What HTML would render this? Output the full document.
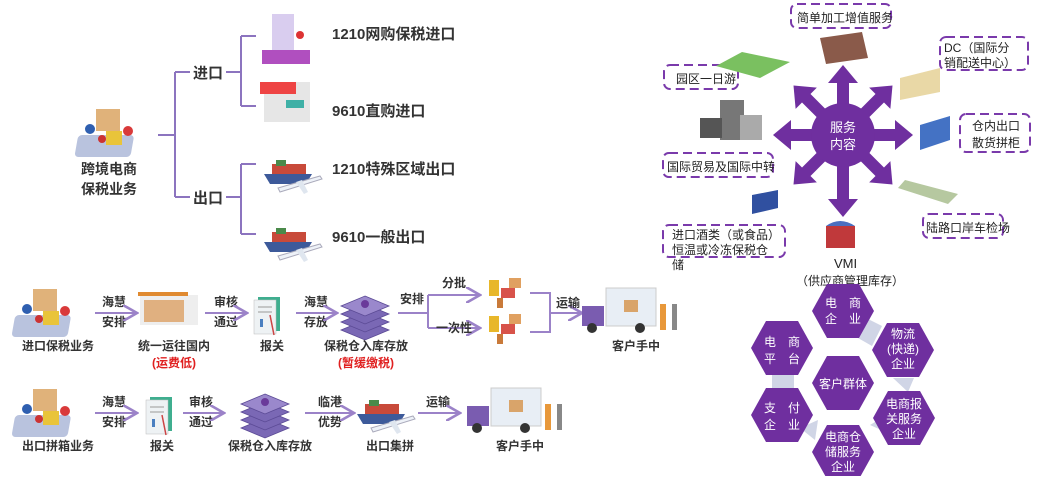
<!DOCTYPE html>
<html><head><meta charset="utf-8"><style>
body{margin:0;background:#fff;}
svg text{font-family:"Liberation Sans","Noto Sans CJK SC",sans-serif;}
</style></head><body>
<svg width="1042" height="476" viewBox="0 0 1042 476" xmlns="http://www.w3.org/2000/svg">
<defs>
<marker id="ar" markerWidth="8" markerHeight="8" refX="6" refY="4" orient="auto"><path d="M0,0 L7,4 L0,8" fill="none" stroke="#9b82c8" stroke-width="1.3"/></marker>
<g id="phone"><rect x="-28" y="10" width="56" height="22" rx="4" fill="#b9c3de" transform="skewX(-10)"/><rect x="-12" y="-16" width="24" height="22" fill="#e0b27a"/><circle cx="-18" cy="4" r="5" fill="#2f5fb0"/><rect x="-2" y="6" width="16" height="14" fill="#e9c43a"/><circle cx="20" cy="6" r="5" fill="#d93a3a"/><circle cx="-6" cy="14" r="4" fill="#c33"/></g>
<g id="doc"><rect x="-10" y="-18" width="22" height="34" fill="#3fae8f"/><rect x="-14" y="-15" width="22" height="34" fill="#eef2f4" stroke="#bbb" stroke-width=".5"/><line x1="-10" y1="-8" x2="4" y2="-8" stroke="#999"/><line x1="-10" y1="-3" x2="4" y2="-3" stroke="#999"/><rect x="-8" y="4" width="3" height="8" fill="#4a7fc0"/><line x1="2" y1="0" x2="6" y2="20" stroke="#c44" stroke-width="1.5"/></g>
<g id="stack"><g fill="#7a68b5" stroke="#5b4a95" stroke-width=".8"><path d="M0,8 L24,18 L0,28 L-24,18Z"/><path d="M0,0 L24,10 L0,20 L-24,10Z"/><path d="M0,-8 L24,2 L0,12 L-24,2Z"/><path d="M0,-16 L24,-6 L0,4 L-24,-6Z" fill="#9a88cc"/></g><circle cx="0" cy="-8" r="4" fill="#6a3a9a"/></g>
<g id="truck"><rect x="-14" y="-24" width="50" height="38" fill="#e8eef5" stroke="#ccc"/><rect x="4" y="-12" width="14" height="12" fill="#d9a46a"/><rect x="-38" y="-6" width="22" height="20" fill="#7a5cb0"/><circle cx="-28" cy="16" r="5" fill="#333"/><circle cx="20" cy="16" r="5" fill="#333"/><rect x="40" y="-8" width="6" height="26" fill="#e8983a"/><rect x="52" y="-8" width="5" height="26" fill="#888"/></g>
<g id="fork"><rect x="-16" y="-12" width="10" height="16" fill="#e8b72a"/><rect x="-4" y="-4" width="14" height="10" fill="#d8534a"/><rect x="4" y="-14" width="12" height="10" fill="#e0a060"/><rect x="-8" y="6" width="6" height="10" fill="#c97a3a"/></g>
<g id="ship"><path d="M-26,4 L22,4 L16,14 L-20,14Z" fill="#3d5a9a"/><rect x="-18" y="-6" width="34" height="10" fill="#c84a3a"/><rect x="-14" y="-10" width="10" height="6" fill="#4a8a4a"/><path d="M-12,18 L30,6 L32,9 L-10,22Z" fill="#eef2f8" stroke="#aab"/><path d="M6,12 L14,24 L18,22 L12,10Z" fill="#dfe6ef"/></g>
<path id="hx" d="M-31,0 L-16,-27 L16,-27 L31,0 L16,27 L-16,27Z"/>
</defs>

<use href="#phone" x="108" y="125"/>
<text x="109" y="174" font-size="14" font-weight="bold" text-anchor="middle" fill="#333">跨境电商</text>
<text x="109" y="194" font-size="14" font-weight="bold" text-anchor="middle" fill="#333">保税业务</text>
<g stroke="#8c74bf" stroke-width="2" fill="none">
<path d="M158,135 H175 M175,72 V197 M175,72 H190 M175,197 H190"/>
<path d="M226,72 H241 M241,36 V106 M241,36 H256 M241,106 H256"/>
<path d="M226,197 H241 M241,164 V234 M241,164 H256 M241,234 H256"/>
</g>
<text x="193" y="78" font-size="15" font-weight="bold" fill="#333">进口</text>
<text x="193" y="203" font-size="15" font-weight="bold" fill="#333">出口</text>
<rect x="272" y="14" width="22" height="48" fill="#d9cdef"/><rect x="262" y="50" width="48" height="14" fill="#b04fbf"/><circle cx="300" cy="35" r="4" fill="#d33"/>
<rect x="264" y="82" width="46" height="40" fill="#e6e6e6"/><rect x="260" y="82" width="36" height="12" fill="#e44"/><rect x="286" y="100" width="18" height="8" fill="#3fb0a6"/>
<use href="#ship" x="290" y="170"/>
<use href="#ship" x="290" y="238"/>
<text x="332" y="39" font-size="15" font-weight="bold" fill="#333">1210网购保税进口</text>
<text x="332" y="116" font-size="15" font-weight="bold" fill="#333">9610直购进口</text>
<text x="332" y="174" font-size="15" font-weight="bold" fill="#333">1210特殊区域出口</text>
<text x="332" y="242" font-size="15" font-weight="bold" fill="#333">9610一般出口</text>

<g font-size="12" font-weight="bold" fill="#333" text-anchor="middle">
<use href="#phone" x="45" y="305"/>
<text x="58" y="350">进口保税业务</text>
<text x="114" y="306">海慧</text><text x="114" y="326">安排</text>
<line x1="95" y1="313" x2="135" y2="313" stroke="#9b82c8" stroke-width="2" marker-end="url(#ar)"/>
<rect x="140" y="295" width="58" height="30" fill="#eee"/><rect x="144" y="300" width="40" height="22" fill="#e0b080"/><rect x="138" y="292" width="50" height="4" fill="#e08a30"/>
<text x="174" y="350">统一运往国内</text>
<text x="174" y="367" fill="#e02020">(运费低)</text>
<text x="226" y="306">审核</text><text x="226" y="326">通过</text>
<line x1="205" y1="313" x2="245" y2="313" stroke="#9b82c8" stroke-width="2" marker-end="url(#ar)"/>
<use href="#doc" x="268" y="315"/>
<text x="272" y="350">报关</text>
<text x="316" y="306">海慧</text><text x="316" y="326">存放</text>
<line x1="296" y1="313" x2="335" y2="313" stroke="#9b82c8" stroke-width="2" marker-end="url(#ar)"/>
<use href="#stack" x="365" y="312"/>
<text x="366" y="350">保税仓入库存放</text>
<text x="366" y="367" fill="#e02020">(暂缓缴税)</text>
<text x="412" y="303">安排</text>
<path d="M398,313 H428 M428,295 V328" stroke="#9b82c8" stroke-width="2" fill="none"/>
<line x1="428" y1="295" x2="478" y2="295" stroke="#9b82c8" stroke-width="2" marker-end="url(#ar)"/>
<line x1="428" y1="328" x2="478" y2="328" stroke="#9b82c8" stroke-width="2" marker-end="url(#ar)"/>
<text x="454" y="287">分批</text><text x="454" y="332" text-anchor="middle">一次性</text>
<use href="#fork" x="505" y="292"/><use href="#fork" x="505" y="328"/>
<path d="M530,293 H550 V332 H530 M550,313 H580" stroke="#9b82c8" stroke-width="2" fill="none" marker-end="url(#ar)"/>
<text x="568" y="307">运输</text>
<use href="#truck" x="620" y="312"/>
<text x="636" y="350">客户手中</text>

<use href="#phone" x="45" y="405"/>
<text x="58" y="450">出口拼箱业务</text>
<text x="114" y="406">海慧</text><text x="114" y="426">安排</text>
<line x1="95" y1="413" x2="135" y2="413" stroke="#9b82c8" stroke-width="2" marker-end="url(#ar)"/>
<use href="#doc" x="160" y="415"/>
<text x="162" y="450">报关</text>
<text x="201" y="406">审核</text><text x="201" y="426">通过</text>
<line x1="183" y1="413" x2="222" y2="413" stroke="#9b82c8" stroke-width="2" marker-end="url(#ar)"/>
<use href="#stack" x="265" y="410"/>
<text x="270" y="450">保税仓入库存放</text>
<text x="330" y="406">临港</text><text x="330" y="426">优势</text>
<line x1="305" y1="413" x2="352" y2="413" stroke="#9b82c8" stroke-width="2" marker-end="url(#ar)"/>
<use href="#ship" x="383" y="410"/>
<text x="390" y="450">出口集拼</text>
<text x="438" y="406">运输</text>
<line x1="418" y1="413" x2="458" y2="413" stroke="#9b82c8" stroke-width="2" marker-end="url(#ar)"/>
<use href="#truck" x="505" y="412"/>
<text x="520" y="450">客户手中</text>
</g>

<g fill="#6f2f9f">
<g transform="translate(843,135)">
<g id="arm"><rect x="-6" y="-56" width="12" height="40"/><path d="M-15,-52 L0,-70 L15,-52Z"/></g>
<use href="#arm" transform="rotate(45)"/><use href="#arm" transform="rotate(90)"/><use href="#arm" transform="rotate(135)"/>
<g transform="rotate(180)"><rect x="-6" y="-66" width="12" height="50"/><path d="M-15,-64 L0,-82 L15,-64Z"/></g>
<use href="#arm" transform="rotate(225)"/><use href="#arm" transform="rotate(270)"/><use href="#arm" transform="rotate(315)"/>
<circle r="32"/>
</g></g>
<text x="843" y="132" font-size="13" fill="#fff" text-anchor="middle">服务</text>
<text x="843" y="149" font-size="13" fill="#fff" text-anchor="middle">内容</text>
<g fill="none" stroke="#7a3aab" stroke-width="2" stroke-dasharray="9,5">
<rect x="791" y="4" width="100" height="24" rx="6"/>
<rect x="940" y="37" width="88" height="33" rx="6"/>
<rect x="664" y="65" width="74" height="24" rx="6"/>
<rect x="960" y="114" width="70" height="38" rx="6"/>
<rect x="663" y="153" width="110" height="24" rx="6"/>
<rect x="663" y="225" width="122" height="32" rx="6"/>
<rect x="923" y="214" width="80" height="24" rx="6"/>
</g>
<g font-size="12" fill="#222">
<text x="797" y="22">简单加工增值服务</text>
<text x="944" y="52">DC（国际分</text><text x="944" y="67">销配送中心）</text>
<text x="676" y="83">园区一日游</text>
<text x="972" y="130">仓内出口</text><text x="972" y="147">散货拼柜</text>
<text x="667" y="171">国际贸易及国际中转</text>
<text x="672" y="239">进口酒类（或食品）</text><text x="672" y="254">恒温或冷冻保税仓</text><text x="672" y="269">储</text>
<text x="926" y="232">陆路口岸车检场</text>
<text x="834" y="268" font-size="13">VMI</text>
<text x="796" y="285">（供应商管理库存）</text>
</g>
<path d="M820,38 L862,32 L868,58 L826,64Z" fill="#8a5a4a"/>
<path d="M742,52 L790,62 L760,78 L716,66Z" fill="#7ac060"/>
<rect x="720" y="100" width="24" height="40" fill="#777"/><rect x="700" y="118" width="22" height="20" fill="#555"/><rect x="740" y="115" width="22" height="25" fill="#aaa"/>
<path d="M900,78 L940,68 L940,92 L900,100Z" fill="#e9d8a6"/>
<path d="M920,125 L950,116 L950,140 L920,150Z" fill="#4472c4"/>
<path d="M752,195 L778,190 L778,208 L752,214Z" fill="#3050a0"/>
<path d="M905,180 L958,194 L948,204 L898,188Z" fill="#b6c8a0"/>
<path d="M826,226 L855,226 L855,248 L826,248Z" fill="#c0393b"/><path d="M826,226 Q840,216 855,226Z" fill="#4a6fc0"/>

<g fill="#d0d5e6"><path d="M866,318 L882,326 L872,346 L858,338Z"/><path d="M772,375 L794,375 L794,388 L772,388Z"/><path d="M893,378 L914,378 L908,392Z"/><path d="M800,428 L818,420 L815,440Z"/><path d="M870,425 L888,414 L890,434Z"/></g>
<g fill="#6f2f9f">
<use href="#hx" x="843" y="383"/>
<use href="#hx" x="843" y="311"/>
<use href="#hx" x="782" y="348"/>
<use href="#hx" x="903" y="350"/>
<use href="#hx" x="782" y="415"/>
<use href="#hx" x="904" y="418"/>
<use href="#hx" x="843" y="452"/>
</g>
<g font-size="12" fill="#fff" text-anchor="middle">
<text x="843" y="388">客户群体</text>
<text x="843" y="307">电　商</text><text x="843" y="323">企　业</text>
<text x="782" y="346">电　商</text><text x="782" y="363">平　台</text>
<text x="903" y="338">物流</text><text x="903" y="353">(快递)</text><text x="903" y="368">企业</text>
<text x="782" y="412">支　付</text><text x="782" y="429">企　业</text>
<text x="904" y="408">电商报</text><text x="904" y="423">关服务</text><text x="904" y="438">企业</text>
<text x="843" y="441">电商仓</text><text x="843" y="456">储服务</text><text x="843" y="471">企业</text>
</g>
</svg>
</body></html>
